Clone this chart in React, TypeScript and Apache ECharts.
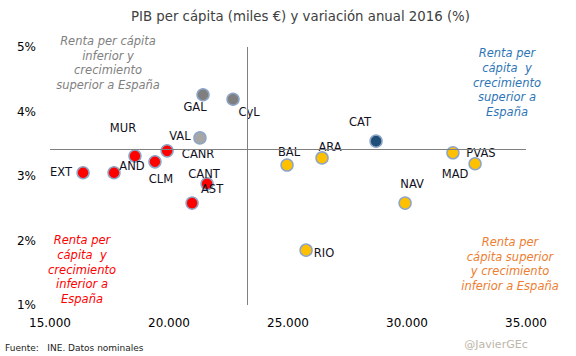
import React, { useEffect, useRef } from "react";
import * as echarts from "echarts";

const regions = ["GAL", "CyL", "VAL", "CANR", "MUR", "CLM", "AND", "EXT", "CANT", "AST", "BAL", "ARA", "CAT", "NAV", "PVAS", "MAD", "RIO"];
const rentaPerCapita = [21430, 22690, 21300, 19920, 18570, 19410, 17690, 16390, 21600, 20970, 24960, 26430, 28700, 29920, 31930, 32860, 25760];
const crecimiento = [4.26, 4.19, 3.59, 3.39, 3.31, 3.22, 3.05, 3.05, 2.88, 2.58, 3.17, 3.28, 3.54, 2.58, 3.36, 3.19, 1.85];
const grupo = ["gris", "gris", "grisClaro", "rojo", "rojo", "rojo", "rojo", "rojo", "rojo", "rojo", "amarillo", "amarillo", "azul", "amarillo", "amarillo", "amarillo", "amarillo"];
const espanaRenta = 23280;
const espanaCrecimiento = 3.42;
const xTicks = { min: 15000, max: 35000, interval: 5000 };
const yTicks = { min: 1, max: 5, interval: 1 };

const groupColors: Record<string, string> = {
  gris: "#7F7F7F",
  grisClaro: "#A6A6A6",
  rojo: "#FF0000",
  amarillo: "#FFC000",
  azul: "#1F4E79",
};

// label offsets (layout only)
const labelOffsets: Record<string, [number, number]> = {
  GAL: [-8, 12],
  CyL: [16, 13],
  VAL: [-20, -2],
  CANR: [31, 3],
  MUR: [-12, -28],
  CLM: [6, 17],
  AND: [18, -7],
  EXT: [-22, -1],
  CANT: [-3, -10],
  AST: [20, -14],
  BAL: [2, -13],
  ARA: [8, -11],
  CAT: [-16, -19],
  NAV: [7, -19],
  PVAS: [28, 0],
  MAD: [-20, 10],
  RIO: [18, 3],
};

const FONT = "'Century Gothic', 'DejaVu Sans', sans-serif";

const fmtThousands = (v: number) => {
  const s = Math.round(v).toString();
  return s.replace(/\B(?=(\d{3})+(?!\d))/g, ".");
};

export default function App() {
  const ref = useRef<HTMLDivElement>(null);
  useEffect(() => {
    if (!ref.current) return;
    const chart = echarts.init(ref.current, undefined, { renderer: "svg" });
    const data = regions.map((r, i) => ({
      name: r,
      value: [rentaPerCapita[i], crecimiento[i]],
      itemStyle: { color: groupColors[grupo[i]] },
      label: {
        show: true,
        position: "inside",
        offset: labelOffsets[r],
        formatter: r,
        color: "#111122",
        fontSize: 11.5,
        fontFamily: FONT,
      },
    }));
    const quadText = (lines: string[], x: number, y: number, color: string) => ({
      type: "text",
      x,
      y,
      style: {
        text: lines.join("\n"),
        fill: color,
        font: `italic 11.5px ${FONT}`,
        textAlign: "center",
        textVerticalAlign: "middle",
        lineHeight: 14.6,
      },
    });
    chart.setOption({
      animation: false,
      backgroundColor: "#ffffff",
      title: {
        text: "PIB per cápita (miles €) y variación anual 2016 (%)",
        left: 126,
        top: 5,
        textStyle: { fontFamily: FONT, fontSize: 13.3, fontWeight: "normal", color: "#404040" },
      },
      grid: { left: 50, right: 50, top: 47, bottom: 51, containLabel: false },
      xAxis: {
        type: "value",
        min: xTicks.min,
        max: xTicks.max,
        interval: xTicks.interval,
        axisLine: { show: false },
        axisTick: { show: false },
        splitLine: { show: false },
        axisLabel: {
          margin: 12,
          color: "#000",
          fontSize: 12,
          fontFamily: FONT,
          formatter: (v: number) => fmtThousands(v),
        },
      },
      yAxis: {
        type: "value",
        min: yTicks.min,
        max: yTicks.max,
        interval: yTicks.interval,
        axisLine: { show: false },
        axisTick: { show: false },
        splitLine: { show: false },
        axisLabel: { margin: 14, color: "#000", fontSize: 12, fontFamily: FONT, formatter: (v: number) => `${v}%` },
      },
      series: [
        {
          type: "scatter",
          symbolSize: 12,
          itemStyle: { borderColor: "#8EA5C6", borderWidth: 1.5, opacity: 1 },
          data,
          markLine: {
            silent: true,
            symbol: "none",
            label: { show: false },
            lineStyle: { color: "#808080", width: 1, type: "solid" },
            data: [{ xAxis: espanaRenta }, { yAxis: espanaCrecimiento }],
          },
          z: 3,
        },
      ],
      graphic: [
        quadText(["Renta per cápita", "inferior y", "crecimiento", "superior a España"], 108, 63, "#808080"),
        quadText(["Renta per", "cápita  y", "crecimiento", "superior a", "España"], 507, 82.5, "#2E75B6"),
        quadText(["Renta per", "cápita  y", "crecimiento", "inferior a", "España"], 82, 269.5, "#FF0000"),
        quadText(["Renta per", "cápita superior", "y crecimiento", "inferior a España"], 510, 264, "#ED7D31"),
        {
          type: "text",
          x: 5,
          y: 348,
          style: { text: "Fuente:   INE. Datos nominales", fill: "#222", font: `9px ${FONT}`, textVerticalAlign: "middle" },
        },
        {
          type: "text",
          x: 496,
          y: 344,
          style: { text: "@JavierGEc", fill: "#BDB6A9", font: `11px ${FONT}`, textAlign: "center", textVerticalAlign: "middle" },
        },
      ],
    });
    return () => chart.dispose();
  }, []);
  return <div ref={ref} style={{ width: 576, height: 356, position: "absolute", left: 0, top: 0 }} />;
}
